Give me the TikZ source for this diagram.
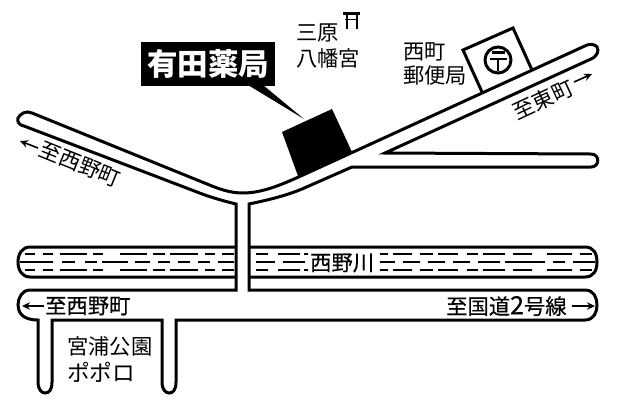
\documentclass[tikz,border=0pt]{standalone}
\usepackage{fontspec}
\usetikzlibrary{arrows.meta}
\setmainfont{Noto Sans CJK JP}
\newfontfamily\heavyjp[FakeBold=0.35]{Noto Sans CJK JP}
\begin{document}
\begin{tikzpicture}[x=1pt,y=-1pt,
  road/.style={draw=black,line width=3pt,line join=miter},
  thin/.style={draw=black,line width=1.4pt},
  lab/.style={inner sep=0pt,font=\fontsize{21.3}{21}\selectfont,text=black},
  hlab/.style={inner sep=0pt,font=\heavyjp\fontsize{21.3}{21}\selectfont,text=black},
  arr/.style={draw=black,line width=1.6pt,-{Stealth[length=8pt,width=7.5pt]}}]
\useasboundingbox (0,0) rectangle (618,408);
% river
\draw[road] (30,247) -- (585,247) .. controls (594,247) and (597,254) .. (597,262) .. controls (597,270) and (594,277) .. (585,277)
  -- (30,277) .. controls (22,277) and (18,270) .. (18,262) .. controls (18,254) and (22,247) .. (30,247) -- cycle;
\foreach \a/\b in {25/35,43/53,60/87,93/103,120/147,153/165,170/198,205/215,222/234,
  256/268,278/300,304/308,380/388,393/412,420/433,438/458,467/478,483/505,513/532,547/572,580/592}{
  \draw[thin] (\a,254) -- (\b,254);
  \draw[thin] (\a,270) -- (\b,270);
}
\foreach \a/\b in {20/53,62/75,85/97,102/128,135/150,158/170,178/190,198/210,218/234,
  256/275,283/305,380/395,403/420,428/445,453/470,478/500,505/545,553/565,573/595}{
  \draw[thin] (\a,262) -- (\b,262);
}
% roads
\draw[road,fill=white] (236,290) -- (30,290) .. controls (22,290) and (18,298) .. (18,305) .. controls (18,312) and (22,320) .. (38,320) -- (38,382)
  .. controls (38,390) and (42,393) .. (45,393) .. controls (49,393) and (52,390) .. (52,382) -- (52,320) -- (162,320) -- (162,382)
  .. controls (162,390) and (166,393) .. (169,393) .. controls (173,393) and (176,390) .. (176,382) -- (176,320)
  -- (585,320) .. controls (594,320) and (597,312) .. (597,305) .. controls (597,298) and (594,290) .. (585,290) -- (249,290) -- (249,204)
  .. controls (268,200) and (285,196) .. (302,189) -- (352,167) -- (591,167) .. controls (600,167) and (600,154) .. (591,154)
  -- (385,153) -- (591,59) .. controls (598,56) and (599,50) .. (597,47) .. controls (595,44) and (590,44) .. (587,45)
  -- (303,175) .. controls (283,184) and (263,193) .. (243,193) .. controls (230,193) and (219,189) .. (207,184)
  -- (32,113) .. controls (26,110) and (20,114) .. (18,118) .. controls (17,122) and (19,125) .. (24,126)
  -- (197,192) .. controls (212,198) and (228,202) .. (236,204) -- cycle;
% pharmacy
\fill (282,132) -- (332,109) -- (352,152) -- (298,176) -- cycle;
\node[fill=black,minimum width=134pt,minimum height=44pt,inner sep=0pt] (ph) at (208,64) {\textcolor{white}{\bfseries\fontsize{30.5}{30}\selectfont 有田薬局}};
\fill (248,85) -- (263,85) -- (304,119) -- cycle;
% post office
\draw[road] (482,92) -- (463,50) -- (513,28) -- (532,70);
\coordinate (pc) at (498,60);
\draw[line width=3pt] (pc) circle (13);
\draw[line width=2.4pt] (491.5,52.5) -- (505,52.5);
\draw[line width=2.4pt] (490,59) -- (507,59) (498,59) -- (498,71);
% torii
\draw[line width=3pt] (343,13.5) -- (360,13.5);
\draw[line width=1.6pt] (345,19.5) -- (358,19.5);
\draw[line width=2pt] (347,13) -- (347,29) (357,13) -- (357,29);
% labels
\node[lab,anchor=west] (l1) at (296,33) {三原};
\node[lab,anchor=west] (l2) at (296,58) {八幡宮};
\node[lab,anchor=west] (l3) at (403,52) {西町};
\node[lab,anchor=west] (l4) at (403,75) {郵便局};
\node[lab,rotate=25] (l5) at (543,100) {至東町};
\coordinate (ae1) at (574,82); \coordinate (ae2) at (592,74);
\draw[arr] (ae1) -- (ae2);
\node[lab,rotate=-22] (l6) at (80,164) {至西野町};
\coordinate (aw1) at (38,148); \coordinate (aw2) at (20,141);
\draw[arr] (aw1) -- (aw2);
\node[hlab,anchor=west] (l7) at (45,306) {至西野町};
\coordinate (ab1) at (44,306); \coordinate (ab2) at (22,306);
\draw[arr] (ab1) -- (ab2);
\node[hlab,anchor=west] (l8) at (446,306) {至国道\fontsize{25}{21}\selectfont 2\fontsize{21.3}{21}\selectfont 号線};
\coordinate (ac1) at (572,306); \coordinate (ac2) at (595,306);
\draw[arr] (ac1) -- (ac2);
\node[lab,anchor=west] (l9) at (67,346) {宮浦公園};
\node[lab,anchor=west,font=\fontsize{22.7}{21}\selectfont] (l10) at (67,372) {ポポロ};
\node[hlab,anchor=west,fill=white,inner xsep=2pt] (l11) at (308,263) {西野川};
\end{tikzpicture}
\end{document}
